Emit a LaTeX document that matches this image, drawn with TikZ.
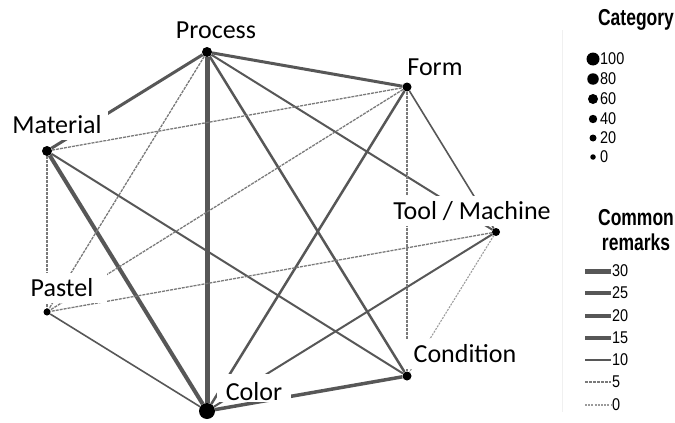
\documentclass[tikz,border=0pt]{standalone}
\usepackage{fontspec}
\setmainfont{Carlito}
\newfontfamily\legfont{Liberation Sans}
\definecolor{edgegray}{HTML}{575757}
\definecolor{dashgray}{HTML}{7A7A7A}
\pgfdeclarelayer{bg}
\pgfsetlayers{bg,main}
\tikzset{
  vdot/.style={circle, fill=black, inner sep=0pt, minimum size=#1},
  lbl/.style={font=\fontsize{26}{26}\selectfont, fill=white, inner xsep=6pt, inner ysep=4pt,
              text height=19pt, text depth=3pt, anchor=base},
  edgebase/.style={draw=edgegray, line cap=butt},
  wA/.style={edgebase, line width=5pt},
  wB/.style={edgebase, line width=4pt},
  wC/.style={edgebase, line width=3.5pt},
  wD/.style={edgebase, line width=3pt},
  wE/.style={edgebase, line width=2.5pt},
  wF/.style={edgebase, line width=2pt},
  wG/.style={edgebase, line width=1.6pt},
  wdash/.style={draw=dashgray, line width=1.3pt, dash pattern=on 3pt off 1pt},
  wdot/.style={draw=dashgray!75, line width=1.1pt, dash pattern=on 2pt off 1.2pt},
  legtitle/.style={font=\legfont\bfseries\fontsize{23}{23}\selectfont, anchor=base, inner sep=0pt},
  legnum/.style={font=\legfont\fontsize{17}{17}\selectfont, anchor=west, inner sep=0pt}
}
\begin{document}
\begin{tikzpicture}[x=1pt, y=-1pt]
\useasboundingbox (0,0) rectangle (675,423);

% category nodes (dots)
\node[vdot=10pt] (P)  at (207,52)  {};
\node[vdot=9pt]  (F)  at (407,87)  {};
\node[vdot=10pt] (M)  at (47,151)  {};
\node[vdot=8pt]  (T)  at (496,232) {};
\node[vdot=7pt]  (Pa) at (47,312)  {};
\node[vdot=9pt]  (Cn) at (407,376) {};
\node[vdot=16pt] (Co) at (207,411) {};

% connectors
\begin{pgfonlayer}{bg}
\draw[wA] (P) -- (Co);
\draw[wB] (M) -- (Co);
\draw[wC] (Co) -- (Cn);
\draw[wD] (P) -- (M);
\draw[wD] (P) -- (F);
\draw[wE] (P) -- (Cn);
\draw[wE] (F) -- (Co);
\draw[wF] (P) -- (T);
\draw[wF] (M) -- (Cn);
\draw[wF] (T) -- (Co);
\draw[wG] (F) -- (T);
\draw[wG] (Pa) -- (Co);
\draw[wdash] (P) -- (Pa);
\draw[wdash] (M) -- (F);
\draw[wdash] (M) -- (Pa);
\draw[wdash] (F) -- (Pa);
\draw[wdash] (F) -- (Cn);
\draw[wdash] (T) -- (Pa);
\draw[wdot] (T) -- (Cn);
\end{pgfonlayer}

% labels
\node[lbl] (lP)  at (216,38)  {Process};
\node[lbl] (lF)  at (435,75)  {Form};
\node[lbl] (lM)  at (57,133)  {Material};
\node[lbl] (lT)  at (472,219) {Tool / Machine};
\node[lbl, inner xsep=14pt] (lPa) at (62,296)  {Pastel};
\node[lbl, inner xsep=8pt] (lCn) at (465,362) {Condition};
\node[lbl, text height=24pt, text depth=0pt, inner ysep=2pt, inner xsep=9pt] (lCo) at (254,400) {Color};

% legend
\draw[gray!12, line width=1pt] (562,30) -- (562,412);
\node[legtitle] (tCat) at (636,25) {\scalebox{0.76}[1]{Category}};
\foreach \yy/\dd/\lab in {59/13/100, 79/11.5/80, 99/10/60, 119/8.4/40, 138/7/20, 157/5.5/0} {
  \node[vdot=\dd pt] (cd\lab) at (593,\yy) {};
  \node[legnum] (ct\lab) at (600,\yy) {\scalebox{0.85}[1]{\lab}};
}
\node[legtitle] (tCom) at (636,225) {\scalebox{0.76}[1]{Common}};
\node[legtitle] (tRem) at (636,250) {\scalebox{0.76}[1]{remarks}};
\foreach \yy/\ww/\lab in {271/5/30, 293/4.5/25, 316/4/20, 338/3.5/15, 360/2.8/10} {
  \coordinate (la\lab) at (585,\yy);
  \coordinate (lb\lab) at (611,\yy);
  \draw[draw=edgegray, line width=\ww pt] (la\lab) -- (lb\lab);
  \node[legnum] (lt\lab) at (612,\yy) {\scalebox{0.85}[1]{\lab}};
}
\coordinate (la5) at (585,382); \coordinate (lb5) at (611,382);
\draw[wdash] (la5) -- (lb5);
\node[legnum] (lt5) at (612,382) {\scalebox{0.85}[1]{5}};
\coordinate (la0) at (585,405); \coordinate (lb0) at (611,405);
\draw[wdot] (la0) -- (lb0);
\node[legnum] (lt0) at (612,405) {\scalebox{0.85}[1]{0}};
\end{tikzpicture}
\end{document}
